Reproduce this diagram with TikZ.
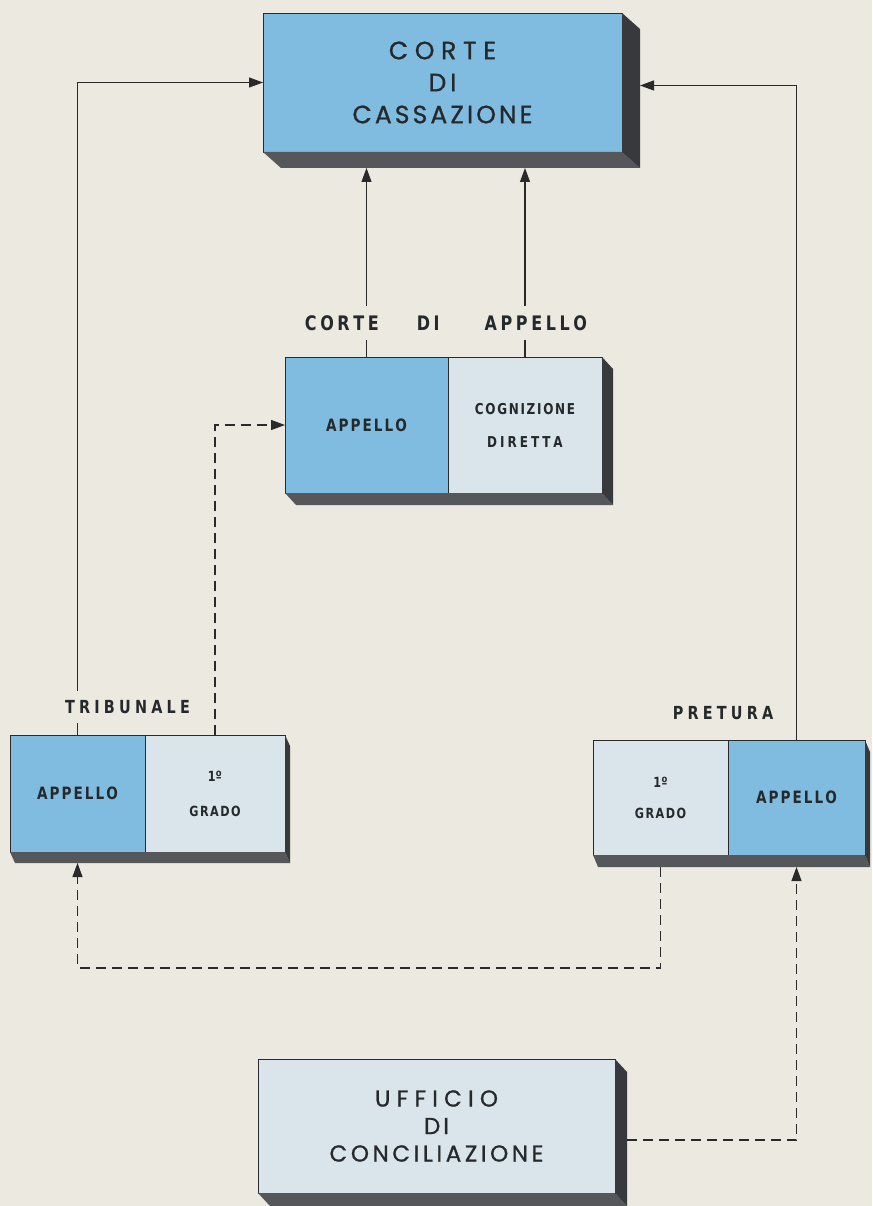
\documentclass[tikz,border=0pt]{standalone}
\usepackage{fontspec}
\usetikzlibrary{arrows.meta,calc}
\newfontfamily\bigf[FakeBold=0.9]{Poppins}
\newfontfamily\smf[FakeStretch=0.8]{DejaVu Sans}
\definecolor{bg}{HTML}{ECE9E0}
\definecolor{blueb}{HTML}{80BCE0}
\definecolor{lightb}{HTML}{D9E5EA}
\definecolor{darkb}{HTML}{55575A}
\definecolor{darkr}{HTML}{38393C}
\definecolor{linec}{HTML}{2A2A2A}
\definecolor{textc}{HTML}{26292C}
\makeatletter
\newcommand\lsp[2]{\def\lsp@k{\kern#1pt}\lsp@first#2\@nil}
\def\lsp@first#1{#1\lsp@a}
\def\lsp@a#1{\ifx\@nil#1\else\lsp@k#1\expandafter\lsp@a\fi}
\makeatother
\newcommand\boxdepth[4]{%
  \fill[darkb] (#1.south west |- #2.south) -- (#2.south east) -- ($(#2.south east)+(#3,#4)$) -- ($(#1.south west |- #2.south)+(#3,#4)$) -- cycle;
  \fill[darkr] (#1.north west -| #2.east) -- ++(#3,#4) -- ($(#2.south east)+(#3,#4)$) -- (#2.south east) -- cycle;}
\begin{document}
\begin{tikzpicture}[x=1pt,y=-1pt,
  face/.style={draw=linec, line width=0.6pt, inner sep=0pt, outer sep=0pt, anchor=north west, align=center, text=textc},
  bluef/.style={face, fill=blueb},
  lightf/.style={face, fill=lightb},
  conn/.style={draw=linec, line width=1.1pt, -{Triangle[length=14pt,width=10pt]}},
  dconn/.style={conn, dash pattern=on 10pt off 6pt},
  lab/.style={fill=bg, inner xsep=3pt, inner ysep=9pt, text=textc},
  bigt/.style={font=\bigf\fontsize{25}{32}\selectfont},
  uft/.style={font=\bigf\fontsize{23}{27.5}\selectfont},
  smt/.style={font=\smf\bfseries\fontsize{#1}{#1}\selectfont}]
\useasboundingbox (0,0) rectangle (872,1206);
\fill[bg] (0,0) rectangle (872,1206);

% Corte di Cassazione
\node[bluef, minimum width=359pt, minimum height=139pt, bigt] (cass) at (263,13)
  {\lsp{6.7}{CORTE}\\\lsp{4}{DI}\\\lsp{3.1}{CASSAZIONE}};
\boxdepth{cass}{cass}{18}{16}
\coordinate (cassD) at ($(cass.south)+(0,16)$);
\coordinate (cassR) at ($(cass.east)+(18,3)$);

% Corte di Appello
\node[bluef, minimum width=163pt, minimum height=136pt, smt=17] (appA) at (285,357) {\lsp{2}{APPELLO}};
\node[lightf, minimum width=154pt, minimum height=136pt, font=\smf\bfseries\fontsize{15}{33}\selectfont] (cogn) at (448,357)
  {\lsp{1.7}{COGNIZIONE}\\\lsp{3}{DIRETTA}};
\boxdepth{appA}{cogn}{11}{12}

% Tribunale
\node[bluef, minimum width=135pt, minimum height=117pt, smt=17] (tribA) at (10,735) {\lsp{2}{APPELLO}};
\node[lightf, minimum width=140pt, minimum height=117pt, font=\smf\bfseries\fontsize{14}{35}\selectfont] (trib1) at (145,735)
  {1º\\\lsp{1.5}{GRADO}};
\boxdepth{tribA}{trib1}{5}{11}

% Pretura
\node[lightf, minimum width=135pt, minimum height=115pt, font=\smf\bfseries\fontsize{14}{31}\selectfont] (pret1) at (593,740)
  {1º\\\lsp{1.5}{GRADO}};
\node[bluef, minimum width=137pt, minimum height=115pt, smt=17] (pretA) at (728,740) {\lsp{2}{APPELLO}};
\boxdepth{pret1}{pretA}{5}{12}

% Ufficio di Conciliazione
\node[lightf, minimum width=357pt, minimum height=134pt, uft] (uff) at (258,1059)
  {\lsp{6.2}{UFFICIO}\\\lsp{3}{DI}\\\lsp{3.6}{CONCILIAZIONE}};
\boxdepth{uff}{uff}{12}{13}

% connectors
\draw[conn] (tribA.north) |- (cass.west);
\draw[conn] (pretA.north) |- (cassR);
\draw[conn] (appA.north) -- (appA.north |- cassD);
\draw[conn] (cogn.north) -- (cogn.north |- cassD);
\draw[dconn] (trib1.north) |- (appA.west);
\draw[dconn] ($(pret1.south)+(0,12)$) |- ($(tribA.south)+(0,116)$) -- ($(tribA.south)+(0,11)$);
\draw[dconn] ($(uff.east)+(12,14)$) -| ($(pretA.south)+(0,12)$);

% labels
\node[lab, smt=20] (cal) at (446,323)
  {\lsp{3.6}{CORTE}\hspace{38pt}\lsp{3.6}{DI}\hspace{45pt}\lsp{3.6}{APPELLO}};
\node[lab, smt=18] (tribl) at (127.5,707) {\lsp{4.2}{TRIBUNALE}};
\node[lab, smt=18] (pretl) at (723,713) {\lsp{4.2}{PRETURA}};
\end{tikzpicture}
\end{document}
